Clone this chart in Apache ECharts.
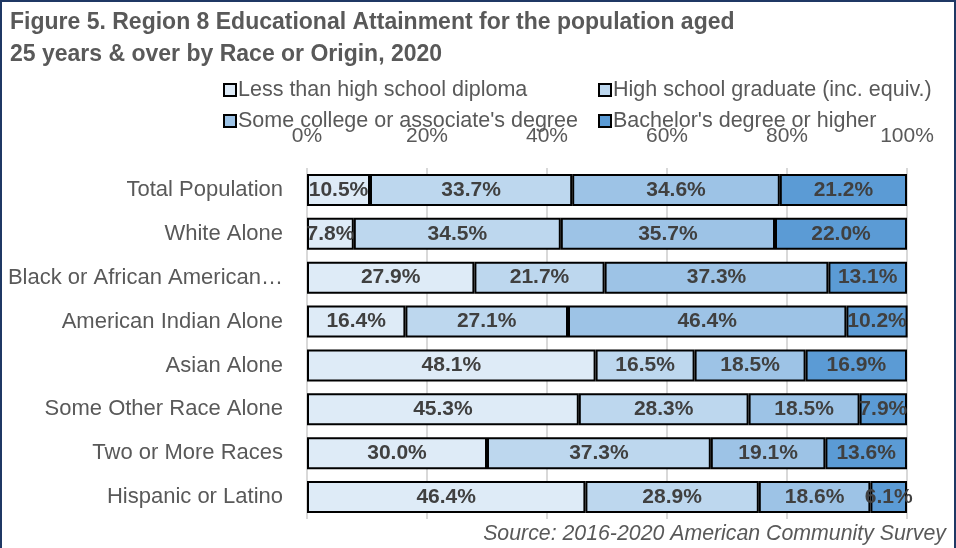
<!DOCTYPE html>
<html>
<head>
<meta charset="utf-8">
<script src="https://cdn.jsdelivr.net/npm/echarts@6/dist/echarts.min.js"></script>
<style>
html,body{margin:0;padding:0;background:#fff;}
#wrap{position:relative;width:956px;height:548px;overflow:hidden;}
#chart{position:absolute;left:0;top:0;width:956px;height:548px;}
#frame{position:absolute;left:0;top:0;width:956px;height:560px;box-sizing:border-box;border:2px solid #1F3864;pointer-events:none;}
</style>
</head>
<body>
<div id="wrap"><div id="chart"></div><div id="frame"></div></div>
<script>
const categories = ["Total Population","White Alone","Black or African American…","American Indian Alone","Asian Alone","Some Other Race Alone","Two or More Races","Hispanic or Latino"];
const seriesNames = ["Less than high school diploma","High school graduate (inc. equiv.)","Some college or associate's degree","Bachelor's degree or higher"];
const lessThanHS = [10.5, 7.8, 27.9, 16.4, 48.1, 45.3, 30.0, 46.4];
const hsGrad     = [33.7, 34.5, 21.7, 27.1, 16.5, 28.3, 37.3, 28.9];
const someCollege= [34.6, 35.7, 37.3, 46.4, 18.5, 18.5, 19.1, 18.6];
const bachelors  = [21.2, 22.0, 13.1, 10.2, 16.9, 7.9, 13.6, 6.1];
const tickValues = [0, 20, 40, 60, 80, 100];
const colors = ["#DEEBF7","#BDD7EE","#9DC3E6","#5B9BD5"];

const FONT = "Liberation Sans, Arial, sans-serif";
const values = [lessThanHS, hsGrad, someCollege, bachelors];

const chart = echarts.init(document.getElementById('chart'), null, {renderer:'canvas'});
const series = values.map((vals, i) => ({
  name: seriesNames[i],
  type: 'bar',
  stack: 'total',
  barCategoryGap: '27%',
  data: vals,
  itemStyle: { color: colors[i], borderColor: '#000', borderWidth: 2 },
  label: {
    show: true, position: 'inside',
    formatter: p => p.value.toFixed(1) + '%',
    fontFamily: FONT, fontWeight: 'bold', fontSize: 21, color: '#404040'
  },
  emphasis: { disabled: true }
}));

const legendText = { fontFamily: FONT, fontSize: 21.5, color: '#595959', padding: [0,0,0,-3] };

chart.setOption({
  animation: false,
  backgroundColor: '#fff',
  title: {
    text: 'Figure 5. Region 8 Educational Attainment for the population aged\n25 years & over by Race or Origin, 2020',
    left: 5, top: 2,
    textStyle: { fontFamily: FONT, fontWeight: 'bold', fontSize: 23, color: '#595959', lineHeight: 32 }
  },
  legend: [
    { data: [seriesNames[0], seriesNames[2]], orient: 'vertical', left: 218, top: 74, itemGap: 9,
      itemWidth: 12, itemHeight: 12, icon: 'rect', textStyle: legendText },
    { data: [seriesNames[1], seriesNames[3]], orient: 'vertical', left: 593, top: 74, itemGap: 9,
      itemWidth: 12, itemHeight: 12, icon: 'rect', textStyle: legendText }
  ],
  grid: { left: 307, right: 49, top: 168, bottom: 29, containLabel: false },
  xAxis: {
    type: 'value', position: 'top', min: 0, max: 100, interval: 20,
    axisLine: { show: false }, axisTick: { show: false },
    splitLine: { show: true, lineStyle: { color: '#D9D9D9', width: 2 } },
    axisLabel: { formatter: v => tickValues.includes(v) ? v + '%' : '', fontFamily: FONT, fontSize: 21, color: '#595959', margin: 21 }
  },
  yAxis: {
    type: 'category', data: categories, inverse: true,
    axisLine: { show: false }, axisTick: { show: false },
    axisLabel: { fontFamily: FONT, fontSize: 22, color: '#595959', margin: 24 }
  },
  graphic: [{
    type: 'text', right: 10, top: 524,
    style: { text: 'Source: 2016-2020 American Community Survey', fontFamily: FONT, fontStyle: 'italic', fontSize: 21.3, fill: '#595959' }
  }],
  series: series
});
</script>
</body>
</html>
